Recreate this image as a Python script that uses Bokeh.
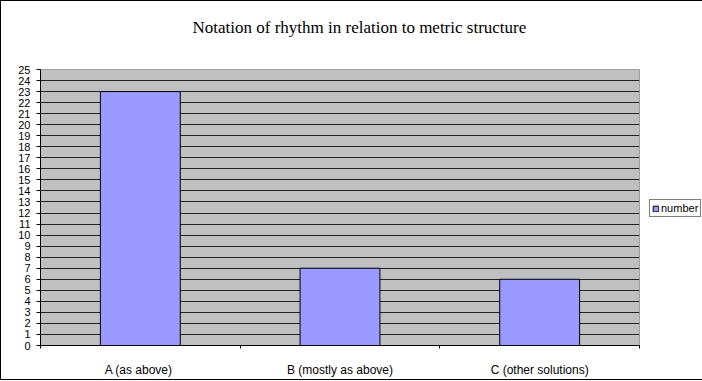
from bokeh.plotting import figure
from bokeh.layouts import row
from bokeh.models import (Range1d, FixedTicker, SingleIntervalTicker, Legend,
                          LegendItem, ColumnDataSource)
from bokeh.embed import file_html
from bokeh.resources import INLINE

# ---- data ----
categories = ["A  (as above)", "B (mostly as above)", "C (other solutions)"]
counts = [23, 7, 6]
series_name = "number"
title_text = "Notation of rhythm in relation to metric structure"
y_max = 25

centers = [i + 0.5 for i in range(len(categories))]
boundaries = list(range(len(categories) + 1))
src = ColumnDataSource(dict(x=centers, top=counts))

bar_style = dict(fill_color="#9999FF", line_color="black", line_width=1)

# ---- main chart ----
p = figure(width=645, height=378, output_backend="svg", toolbar_location=None,
           x_range=Range1d(0, len(categories)), y_range=Range1d(0, y_max),
           min_border_left=39, min_border_right=7, min_border_top=68, min_border_bottom=33)

p.title.text = title_text + "\n"
p.title.align = "left"
p.title.offset = 152
p.title.standoff = 28
p.title.text_font = "Liberation Serif"
p.title.text_font_size = "17px"
p.title.text_font_style = "normal"
p.title.text_color = "black"

p.background_fill_color = "#C0C0C0"
p.border_fill_color = "white"
p.outline_line_color = "#A0A0A0"

bars = p.vbar(x="x", top="top", width=0.4, bottom=0, source=src, **bar_style)

# y axis
p.yaxis.ticker = SingleIntervalTicker(interval=1)
p.ygrid.ticker = SingleIntervalTicker(interval=1)
p.ygrid.grid_line_color = "#222222"
p.ygrid.grid_line_width = 1
p.xgrid.visible = False
p.yaxis.axis_line_color = "black"
p.yaxis.major_tick_line_color = "black"
p.yaxis.major_tick_out = 4
p.yaxis.major_tick_in = 0
p.yaxis.minor_tick_line_color = None
p.yaxis.major_label_standoff = 6
p.yaxis.major_label_text_font = "Liberation Sans"
p.yaxis.major_label_text_font_size = "11px"
p.yaxis.major_label_text_color = "black"

# x axis
p.xaxis.ticker = FixedTicker(ticks=centers, minor_ticks=boundaries)
p.xaxis.major_label_overrides = {c: lab for c, lab in zip(centers, categories)}
p.xaxis.axis_line_color = "black"
p.xaxis.major_tick_line_color = None
p.xaxis.major_tick_out = 0
p.xaxis.major_tick_in = 0
p.xaxis.minor_tick_line_color = "black"
p.xaxis.minor_tick_out = 3
p.xaxis.minor_tick_in = 0
p.xaxis.major_label_standoff = 14
p.xaxis.major_label_text_font = "Liberation Sans"
p.xaxis.major_label_text_font_size = "12px"
p.xaxis.major_label_text_color = "black"

# ---- legend panel (separate small figure, bars kept out of its view) ----
pl = figure(width=56, height=378, output_backend="svg", toolbar_location=None,
            x_axis_type=None, y_axis_type=None,
            x_range=Range1d(-20, -19), y_range=Range1d(0, y_max),
            min_border=0, min_border_left=0, min_border_right=0,
            min_border_top=0, min_border_bottom=0)
pl.outline_line_color = None
pl.background_fill_color = "white"
pl.border_fill_color = "white"
leg_bars = pl.vbar(x="x", top="top", width=0.4, bottom=0, source=src, **bar_style)

legend = Legend(items=[LegendItem(label=series_name, renderers=[leg_bars])],
                location=(3, 128), orientation="vertical",
                border_line_color="black", border_line_width=1,
                background_fill_color="white", background_fill_alpha=1,
                padding=2, margin=0, spacing=0, glyph_width=7, glyph_height=7,
                label_standoff=2, label_height=10, label_text_font="Liberation Sans",
                label_text_font_size="11px", label_text_color="black")
pl.add_layout(legend, "center")

layout = row(p, pl, spacing=0,
             styles={"border-left": "1px solid #000", "border-top": "1px solid #000",
                     "border-bottom": "1px solid #000"})

open("out.html", "w").write(file_html(layout, INLINE))
